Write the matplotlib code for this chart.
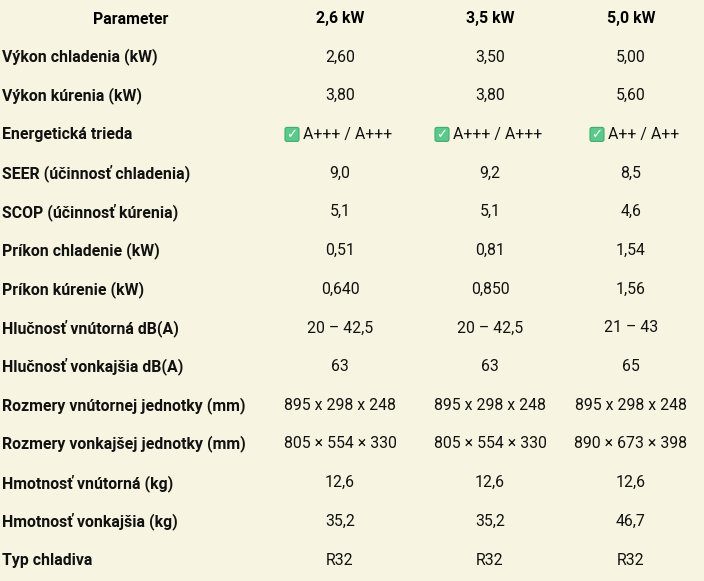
import matplotlib.pyplot as plt
from matplotlib.patches import FancyBboxPatch

header = ["Parameter", "2,6 kW", "3,5 kW", "5,0 kW"]
params = ["Výkon chladenia (kW)", "Výkon kúrenia (kW)", "Energetická trieda",
          "SEER (účinnosť chladenia)", "SCOP (účinnosť kúrenia)",
          "Príkon chladenie (kW)", "Príkon kúrenie (kW)",
          "Hlučnosť vnútorná dB(A)", "Hlučnosť vonkajšia dB(A)",
          "Rozmery vnútornej jednotky (mm)", "Rozmery vonkajšej jednotky (mm)",
          "Hmotnosť vnútorná (kg)", "Hmotnosť vonkajšia (kg)", "Typ chladiva"]
col_26 = ["2,60", "3,80", "A+++ / A+++", "9,0", "5,1", "0,51", "0,640",
          "20 – 42,5", "63", "895 x 298 x 248", "805 × 554 × 330", "12,6", "35,2", "R32"]
col_35 = ["3,50", "3,80", "A+++ / A+++", "9,2", "5,1", "0,81", "0,850",
          "20 – 42,5", "63", "895 x 298 x 248", "805 × 554 × 330", "12,6", "35,2", "R32"]
col_50 = ["5,00", "5,60", "A++ / A++", "8,5", "4,6", "1,54", "1,56",
          "21 – 43", "65", "895 x 298 x 248", "890 × 673 × 398", "12,6", "46,7", "R32"]

bg = "#f7f5e1"
plt.rcParams['font.family'] = ['Roboto', 'DejaVu Sans']
fig = plt.figure(figsize=(7.04, 5.81), dpi=100, facecolor=bg)
ax = fig.add_axes([0, 0, 1, 1])
ax.set_facecolor(bg)
ax.set_xlim(0, 704)
ax.set_ylim(581, 0)
ax.axis('off')

fs = 11.4
centers = [340, 490, 631]
ax.text(131, 19, header[0], ha='center', va='center', fontsize=fs, fontweight='bold')
for cx, h in zip(centers, header[1:]):
    ax.text(cx, 19, h, ha='center', va='center', fontsize=fs, fontweight='bold')

y0, dy = 57, 38.7
for i, p in enumerate(params):
    y = y0 + i * dy
    ax.text(2, y, p, ha='left', va='center', fontsize=fs, fontweight='bold', color='#111111')
    for cx, col in zip(centers, [col_26, col_35, col_50]):
        val = col[i]
        if p == "Energetická trieda":
            left = cx - (37 if '+++' in val else 23)
            ax.text(left, y, val, ha='left', va='center', fontsize=fs, color='#111111')
            bx = left - 18
            ax.add_patch(FancyBboxPatch((bx, y - 7), 14, 14,
                                        boxstyle="round,pad=0,rounding_size=2",
                                        fc='#5cc98a', ec='#3fae6e', lw=0.8))
            ax.text(bx + 7, y + 0.5, "✓", ha='center', va='center', fontsize=9.5,
                    color='white', fontweight='bold', family='DejaVu Sans')
        else:
            ax.text(cx, y, val, ha='center', va='center', fontsize=fs, color='#111111')

fig.savefig("out.png", dpi=100, facecolor=bg)
